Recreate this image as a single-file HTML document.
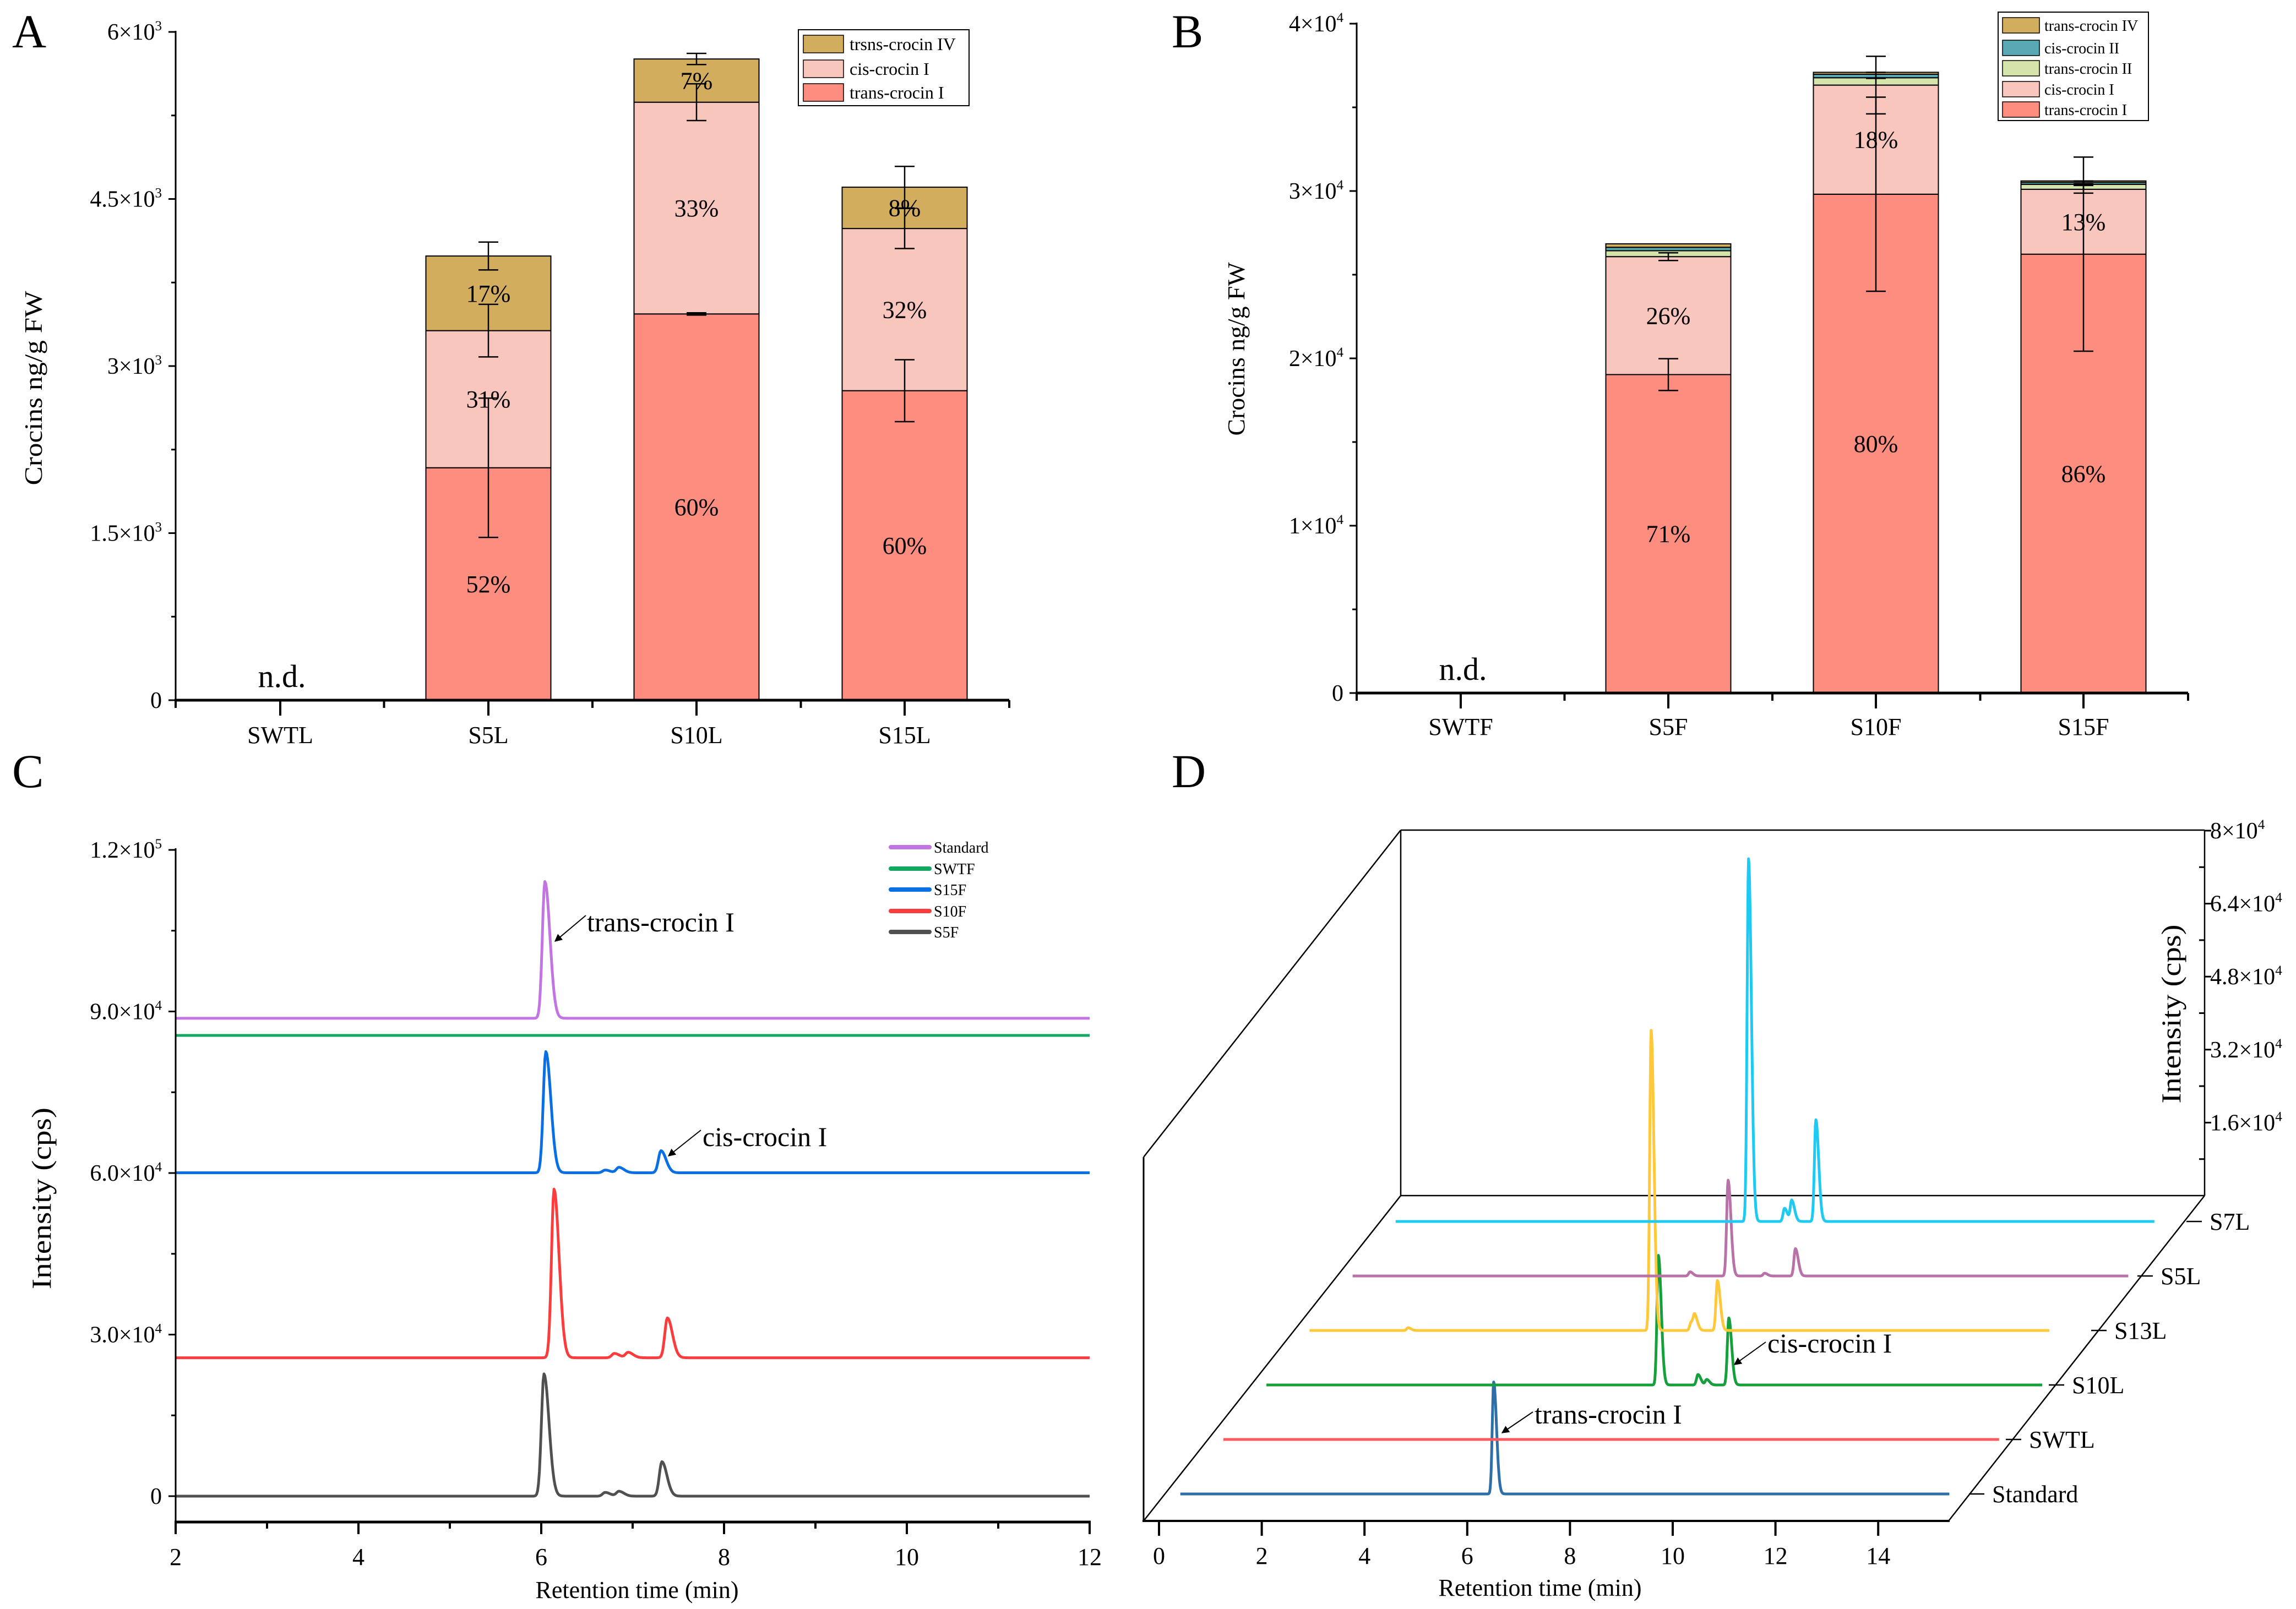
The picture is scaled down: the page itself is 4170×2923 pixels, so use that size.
<!DOCTYPE html>
<html><head><meta charset="utf-8"><style>
html,body{margin:0;padding:0;background:#fff;}
svg{display:block;}
</style></head><body>
<svg id="fig" width="4170" height="2923" viewBox="0 0 4170 2923" font-family="'Liberation Serif', serif" xmlns="http://www.w3.org/2000/svg">
<defs>
<marker id="arr" viewBox="0 0 10 10" refX="9" refY="5" markerWidth="7" markerHeight="7" orient="auto"><path d="M0,0 L10,5 L0,10 z" fill="#000"/></marker>
</defs>
<rect x="0" y="0" width="4170" height="2923" fill="#fff"/>
<text x="22" y="86" font-size="86">A</text>
<text x="2128" y="86" font-size="86">B</text>
<text x="22" y="1430" font-size="86">C</text>
<text x="2128" y="1430" font-size="86">D</text>
</svg>
<script>
// ---------- Panel A data ----------
const A_cats=['SWTL','S5L','S10L','S15L'];
const A_trans=[0,2087,3468,2779];
const A_cis=[0,1231,1901,1456];
const A_iv=[0,670,388,371];
const A_transErr=[0,625,10,278];
const A_cisErr=[0,236,165,180];
const A_ivErr=[0,125,50,187];
const A_pctTrans=['','52%','60%','60%'];
const A_pctCis=['','31%','33%','32%'];
const A_pctIv=['','17%','7%','8%'];
const A_ticks=[0,1500,3000,4500,6000];
const A_tickMant=['0','1.5','3','4.5','6'];
// ---------- Panel B data ----------
const B_cats=['SWTF','S5F','S10F','S15F'];
const B_trans=[0,19031,29809,26226];
const B_cis=[0,7048,6520,3877];
const B_t2=[0,353,440,294];
const B_c2=[0,205,206,117];
const B_iv=[0,206,118,88];
const B_transErr=[0,950,5800,5800];
const B_cisErr=[0,230,1720,230];
const B_ivErr=[0,0,180,90];
const B_pctTrans=['','71%','80%','86%'];
const B_pctCis=['','26%','18%','13%'];
const B_ticks=[0,10000,20000,30000,40000];
const B_tickMant=['0','1','2','3','4'];
// ---------- Panel C data ----------
const C_names=['Standard','SWTF','S15F','S10F','S5F'];
const C_offsets=[88734,85558,60050,25700,0];
const C_peakTimes=[[6.04],[],[6.05,6.7,6.85,7.31],[6.14,6.8,6.95,7.38],[6.03,6.7,6.85,7.32]];
const C_peakHeights=[[25400],[],[22500,500,1000,4100],[31300,800,1000,7400],[22700,700,900,6400]];
const C_ticksX=[2,4,6,8,10,12];
const C_ticksY=[0,30000,60000,90000,120000];
const C_tickMant=['0','3.0','6.0','9.0','1.2'];
const C_tickExp=[null,'4','4','4','5'];
// ---------- Panel D data ----------
const D_names=['Standard','SWTL','S10L','S13L','S5L','S7L'];
const D_ends=[14.97,15.1,15.1,14.4,15.1,14.77];
const D_peakTimes=[[6.10],[],[7.63,8.40,8.57,9.0],[1.92,6.65,7.43,7.50,7.94],[6.57,7.31,8.02,8.62],[6.87,7.57,7.71,8.18]];
const D_peakHeights=[[24540],[],[28400,2300,1200,14700],[600,65800,1800,2900,10950],[900,21000,600,6000],[79500,2900,4600,22300]];
const D_ticksX=[0,2,4,6,8,10,12,14];
const D_ticksY=[16000,32000,48000,64000,80000];
const D_tickMant=['1.6','3.2','4.8','6.4','8'];

const NS='http://www.w3.org/2000/svg';
const svg=document.getElementById('fig');
function mk(tag,attrs,parent){const e=document.createElementNS(NS,tag);for(const k in attrs)e.setAttribute(k,attrs[k]);(parent||svg).appendChild(e);return e;}
function txt(x,y,s,size,anchor,parent){const e=mk('text',{x:x,y:y,'font-size':size,'text-anchor':anchor||'start'},parent);e.textContent=s;return e;}
function sci(x,y,mant,exp,size,anchor,parent){const e=mk('text',{x:x,y:y,'font-size':size,'text-anchor':anchor||'end'},parent);
  if(exp===null){e.textContent=mant;return e;}
  e.appendChild(document.createTextNode(mant+'×10'));
  const t=document.createElementNS(NS,'tspan');t.setAttribute('font-size',Math.round(size*0.6));t.setAttribute('dy',-Math.round(size*0.4));t.textContent=exp;e.appendChild(t);return e;}
function line(x1,y1,x2,y2,w,parent,col){return mk('line',{x1:x1,y1:y1,x2:x2,y2:y2,stroke:col||'#000','stroke-width':w},parent);}
let el;

// ================= PANEL A =================
const gA=mk('g',{});


const A_y0=1272,A_yTop=58,A_max=6000;
function yA(v){return A_y0-v/A_max*(A_y0-A_yTop);}
function xA(i){return 509+i*378;}
const A_bw=227;
const colTrans='#fd8d7e',colCis='#f8c6bd',colIv='#d3ad5e',colT2='#d5e4aa',colC2='#58a9b4';
function drawStack(g,xc,ys,segs,names){ // segs: [value,color,name]
  let base=0;const tops=[];
  segs.forEach(s=>{
    if(s[0]>0){
      const r=mk('rect',{x:xc-A_bw/2,y:ys(base+s[0]),width:A_bw,height:ys(base)-ys(base+s[0]),fill:s[1],stroke:'#000','stroke-width':2},g);
      
      
    }
    tops.push([base,base+s[0]]);base+=s[0];
  });
  return tops;
}
function errBar(g,xc,ys,center,err,name){
  const l=line(xc,ys(center+err),xc,ys(center-err),2.5,g);
  
  
  const c1=line(xc-18,ys(center+err),xc+18,ys(center+err),2.5,g);
  
  
  const c2=line(xc-18,ys(center-err),xc+18,ys(center-err),2.5,g);
  
  
}
A_cats.forEach((c,i)=>{
  const xc=xA(i);
  const segs=drawStack(gA,xc,yA,[[A_trans[i],colTrans,'bar-'+c+'-trans-crocin-i'],[A_cis[i],colCis,'bar-'+c+'-cis-crocin-i'],[A_iv[i],colIv,'bar-'+c+'-trans-crocin-iv']]);
  const errs=[A_transErr[i],A_cisErr[i],A_ivErr[i]];
  const pcts=[A_pctTrans[i],A_pctCis[i],A_pctIv[i]];
  segs.forEach((s,j)=>{
    if(s[1]>s[0]&&pcts[j]){
      el=txt(xc,(yA(s[0])+yA(s[1]))/2+15,pcts[j],44,'middle',gA);
      
      
    }
  });
  segs.forEach((s,j)=>{ if(errs[j]>0) errBar(gA,xc,yA,s[1],errs[j],'error-bar-'+c+'-'+j); });
});
el=txt(xA(0)+3,1248,'n.d.',58,'middle',gA);


// axes
el=line(319,A_yTop-2,319,A_y0,3,gA);


el=line(317,A_y0,1833,A_y0,5,gA);


for(let v=0;v<=A_max;v+=750){
  const maj=(v%1500===0);
  el=line(maj?306:311,yA(v),319,yA(v),3,gA);
  
  
}
A_ticks.forEach((v,i)=>{
  el=sci(294,yA(v)+14,A_tickMant[i],i===0?null:'3',42,'end',gA);
  
  
});
for(let k=0;k<=4;k++){
  el=line(319+k*378.5,A_y0,319+k*378.5,A_y0+14,4,gA);
  
  
}
A_cats.forEach((c,i)=>{
  el=line(xA(i),A_y0,xA(i),A_y0+28,4,gA);
  
  
  el=txt(xA(i),1350,c,44,'middle',gA);
  
  
});
el=mk('text',{x:0,y:0,'font-size':46,'text-anchor':'middle',transform:'translate(76,705) rotate(-90)',textLength:353,lengthAdjust:'spacingAndGlyphs'},gA);
el.textContent='Crocins ng/g FW';


// legend A
const lgA=mk('g',{},gA);


el=mk('rect',{x:1450,y:54,width:310,height:138,fill:'#fff',stroke:'#000','stroke-width':2},lgA);


[['trsns-crocin IV',colIv,80],['cis-crocin I',colCis,125],['trans-crocin I',colTrans,168]].forEach(e=>{
  el=mk('rect',{x:1459,y:e[2]-16,width:73,height:32,fill:e[1],stroke:'#000','stroke-width':1.5},lgA);
  
  
  el=txt(1543,e[2]+11,e[0],32,'start',lgA);
  
  
});

// ================= PANEL B =================
const gB=mk('g',{});


const B_y0=1259,B_yTop=43,B_max=40000;
function yB(v){return B_y0-v/B_max*(B_y0-B_yTop);}
function xB(i){return 2653+i*377;}
B_cats.forEach((c,i)=>{
  const xc=xB(i);
  const segs=drawStack(gB,xc,yB,[[B_trans[i],colTrans,'bar-'+c+'-trans-crocin-i'],[B_cis[i],colCis,'bar-'+c+'-cis-crocin-i'],[B_t2[i],colT2,'bar-'+c+'-trans-crocin-ii'],[B_c2[i],colC2,'bar-'+c+'-cis-crocin-ii'],[B_iv[i],colIv,'bar-'+c+'-trans-crocin-iv']]);
  const pcts=[B_pctTrans[i],B_pctCis[i]];
  [0,1].forEach(j=>{
    const s=segs[j];
    if(s[1]>s[0]&&pcts[j]){
      el=txt(xc,(yB(s[0])+yB(s[1]))/2+15,pcts[j],44,'middle',gB);
      
      
    }
  });
  if(B_transErr[i]>0) errBar(gB,xc,yB,segs[0][1],B_transErr[i],'error-bar-'+c+'-trans');
  if(B_cisErr[i]>0) errBar(gB,xc,yB,segs[1][1],B_cisErr[i],'error-bar-'+c+'-cis');
  if(B_ivErr[i]>0) errBar(gB,xc,yB,segs[4][1]-B_ivErr[i],B_ivErr[i],'error-bar-'+c+'-top');
});
el=txt(xB(0)+4,1235,'n.d.',58,'middle',gB);


el=line(2464,B_yTop-2,2464,B_y0,3,gB);


el=line(2462,B_y0,3974,B_y0,5,gB);


for(let v=0;v<=B_max;v+=5000){
  const maj=(v%10000===0);
  el=line(maj?2451:2456,yB(v),2464,yB(v),3,gB);
  
  
}
B_ticks.forEach((v,i)=>{
  el=sci(2440,yB(v)+14,B_tickMant[i],i===0?null:'4',42,'end',gB);
  
  
});
for(let k=0;k<=4;k++){
  el=line(2464+k*377.5,B_y0,2464+k*377.5,B_y0+14,4,gB);
  
  
}
B_cats.forEach((c,i)=>{
  el=line(xB(i),B_y0,xB(i),B_y0+28,4,gB);
  
  
  el=txt(xB(i),1335,c,44,'middle',gB);
  
  
});
el=mk('text',{x:0,y:0,'font-size':44,'text-anchor':'middle',transform:'translate(2260,634) rotate(-90)',textLength:315,lengthAdjust:'spacingAndGlyphs'},gB);
el.textContent='Crocins ng/g FW';


const lgB=mk('g',{},gB);


el=mk('rect',{x:3629,y:22,width:273,height:197,fill:'#fff',stroke:'#000','stroke-width':2},lgB);


[['trans-crocin IV',colIv,46],['cis-crocin II',colC2,87],['trans-crocin II',colT2,124],['cis-crocin I',colCis,162],['trans-crocin I',colTrans,199]].forEach(e=>{
  el=mk('rect',{x:3637,y:e[2]-14,width:67,height:28,fill:e[1],stroke:'#000','stroke-width':1.5},lgB);
  
  
  el=txt(3713,e[2]+10,e[0],28,'start',lgB);
  
  
});

// ================= PANEL C =================
const gC=mk('g',{});


const C_x0=319,C_x1=1979,C_y0=2718,C_yTop=1544,C_axisY=2765;
function xC(t){return C_x0+(t-2)/10*(C_x1-C_x0);}
function yC(v){return C_y0-v/120000*(C_y0-C_yTop);}
const C_cols=['#c274e2','#12a862','#0a6fe3','#fa3c3c','#505050'];
function peakSum(t,times,heights){let s=0;for(let j=0;j<times.length;j++){const d=t-times[j];const sg=d<0?0.028:0.055;s+=heights[j]*Math.exp(-0.5*(d/sg)*(d/sg));}return s;}
C_names.forEach((n,i)=>{
  let d='';
  for(let t=2;t<=12.0001;t+=0.01){const v=C_offsets[i]+peakSum(t,C_peakTimes[i],C_peakHeights[i]);d+=(d?'L':'M')+xC(t).toFixed(1)+','+yC(v).toFixed(1);}
  el=mk('path',{d:d,fill:'none',stroke:C_cols[i],'stroke-width':5,'stroke-linejoin':'round'},gC);
  
  
});
el=line(C_x0,C_yTop-3,C_x0,C_axisY,3,gC);


el=line(C_x0-2,C_axisY,C_x1+2,C_axisY,5,gC);


for(let v=0;v<=120000;v+=15000){
  const maj=(v%30000===0);
  el=line(maj?306:311,yC(v),C_x0,yC(v),3,gC);
  
  
}
C_ticksY.forEach((v,i)=>{
  el=sci(294,yC(v)+14,C_tickMant[i],C_tickExp[i],42,'end',gC);
  
  
});
for(let t=2;t<=12;t+=1){
  const maj=(t%2===0);
  el=line(xC(t),C_axisY,xC(t),C_axisY+(maj?22:12),4,gC);
  
  
}
C_ticksX.forEach(t=>{
  el=txt(xC(t),2843,String(t),44,'middle',gC);
  
  
});
el=txt(1157,2903,'Retention time (min)',44,'middle',gC);


el=mk('text',{x:0,y:0,'font-size':50,'text-anchor':'middle',transform:'translate(92,2177) rotate(-90)',textLength:330,lengthAdjust:'spacingAndGlyphs'},gC);
el.textContent='Intensity (cps)';


const lgC=mk('g',{},gC);


const C_legY=[1539,1578,1616,1655,1693];
C_names.forEach((n,i)=>{
  el=line(1618,C_legY[i],1688,C_legY[i],8,lgC,C_cols[i]);
  el.setAttribute('stroke-linecap','round');
  
  
  el=txt(1696,C_legY[i]+10,n,28,'start',lgC);
  
  
});
el=txt(1066,1692,'trans-crocin I',50,'start',gC);


el=mk('line',{x1:1064,y1:1663,x2:1008,y2:1710,stroke:'#000','stroke-width':2,'marker-end':'url(#arr)'},gC);


el=txt(1276,2082,'cis-crocin I',50,'start',gC);


el=mk('line',{x1:1273,y1:2053,x2:1214,y2:2100,stroke:'#000','stroke-width':2,'marker-end':'url(#arr)'},gC);



// ================= PANEL D =================
const gD=mk('g',{});


const D_xAxisY=2763,D_x0=2105,D_pxMin=93.3,D_rowStep=99,D_skew=0.790,D_yScale=663/80000;
function baseD(k){return 2714-k*D_rowStep;}
function xD(t,k){return D_x0+t*D_pxMin+(D_xAxisY-baseD(k))*D_skew;}
function yD(v,k){return baseD(k)-v*D_yScale;}
const D_cols=['#2e6fa8','#ff5a5f','#15a03c','#ffc83a','#b872a8','#1ecaf2'];
// box
[[2544,1508,4004,1508],[4004,1508,4004,2172],[2544,1508,2544,2172],[2544,2172,4004,2172],[2544,1508,2077,2102],[2077,2102,2077,2763],[2544,2172,2077,2763],[4004,2172,3539,2763]].forEach((s,i)=>{
  el=line(s[0],s[1],s[2],s[3],i===5?3:2.5,gD);
  
  
});
el=line(2075,D_xAxisY,3541,D_xAxisY,4,gD);


D_names.forEach((n,k)=>{
  let d='';
  for(let t=0;t<=D_ends[k]+0.0001;t+=0.01){const v=peakSum(t,D_peakTimes[k],D_peakHeights[k]);d+=(d?'L':'M')+xD(t,k).toFixed(1)+','+yD(v,k).toFixed(1);}
  el=mk('path',{d:d,fill:'none',stroke:D_cols[k],'stroke-width':5,'stroke-linejoin':'round'},gD);
  
  
});
D_ticksX.forEach(t=>{
  el=line(D_x0+t*D_pxMin,D_xAxisY,D_x0+t*D_pxMin,D_xAxisY+27,4,gD);
  
  
  el=txt(D_x0+t*D_pxMin,2841,String(t),44,'middle',gD);
  
  
});
el=txt(2797,2899,'Retention time (min)',44,'middle',gD);


for(let v=8000;v<=80000;v+=8000){
  const maj=(v%16000===0);
  const yy=2172-v*D_yScale;
  el=line(maj?4004:3994,yy,maj?4016:4004,yy,3,gD);
  
  
}
D_ticksY.forEach((v,i)=>{
  el=sci(4014,2172-v*D_yScale+14,D_tickMant[i],'4',42,'start',gD);
  
  
});
el=mk('text',{x:0,y:0,'font-size':50,'text-anchor':'middle',transform:'translate(3960,1842) rotate(-90)',textLength:325,lengthAdjust:'spacingAndGlyphs'},gD);
el.textContent='Intensity (cps)';


const D_labelX=[3618,3685,3763,3840,3924,4013];
D_names.forEach((n,k)=>{
  const yy=baseD(k);
  el=line(D_labelX[k]-42,yy,D_labelX[k]-14,yy,2.5,gD);
  
  
  el=txt(D_labelX[k],yy+15,n,44,'start',gD);
  
  
});
el=txt(2787,2586,'trans-crocin I',50,'start',gD);


el=mk('line',{x1:2784,y1:2565,x2:2728,y2:2603,stroke:'#000','stroke-width':2,'marker-end':'url(#arr)'},gD);


el=txt(3210,2457,'cis-crocin I',50,'start',gD);


el=mk('line',{x1:3207,y1:2438,x2:3150,y2:2479,stroke:'#000','stroke-width':2,'marker-end':'url(#arr)'},gD);


</script>
</body></html>
